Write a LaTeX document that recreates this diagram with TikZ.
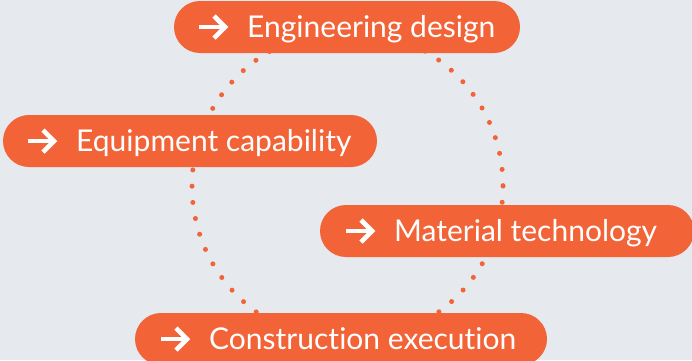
\documentclass[tikz,border=0pt]{standalone}
\usepackage{fontspec}
\setmainfont{Lato}[Ligatures={NoCommon,NoDiscretionary,NoRare}]
\definecolor{bgc}{RGB}{230,233,238}
\definecolor{orng}{RGB}{242,99,56}
\tikzset{
  pill/.style={fill=orng, rounded corners=26pt, minimum height=52pt, inner sep=0pt, draw=none},
  lbl/.style={text=white, anchor=base west, inner sep=0pt, font=\fontsize{30}{32}\selectfont},
  arr/.style={draw=white, line width=4.6pt, line cap=butt, line join=miter},
  ring/.style={draw=orng, line width=5pt, line cap=round, dash pattern=on 0pt off 16.28pt}
}
\begin{document}
\begin{tikzpicture}[x=1pt,y=-1pt]
\useasboundingbox[fill=bgc] (0,0) rectangle (692,360);
\coordinate (c) at (347.5,186);
\draw[ring] (c) circle (155.5);
% pills
\node[pill, minimum width=346pt] (p1) at (347,27) {};
\node[pill, minimum width=374pt] (p2) at (190,141) {};
\node[pill, minimum width=374pt] (p3) at (507,231) {};
\node[pill, minimum width=412pt] (p4) at (341,339) {};
% labels
\node[lbl] (t1) at (247,37) {Engineering design};
\node[lbl] (t2) at (76,151.5) {Equipment capability};
\node[lbl] (t3) at (394,241) {Material technology};
\node[lbl] (t4) at (209,349) {Construction execution};
% arrows
\foreach \n/\x/\y in {1/199/27, 2/28/141, 3/346/231, 4/161/339}{
  \coordinate (a\n) at (\x,\y);
  \draw[arr] (a\n) -- ++(24,0);
  \draw[arr] ([shift={(15,-11)}]a\n) -- ([shift={(26,0)}]a\n) -- ([shift={(15,11)}]a\n);
}
\end{tikzpicture}
\end{document}
